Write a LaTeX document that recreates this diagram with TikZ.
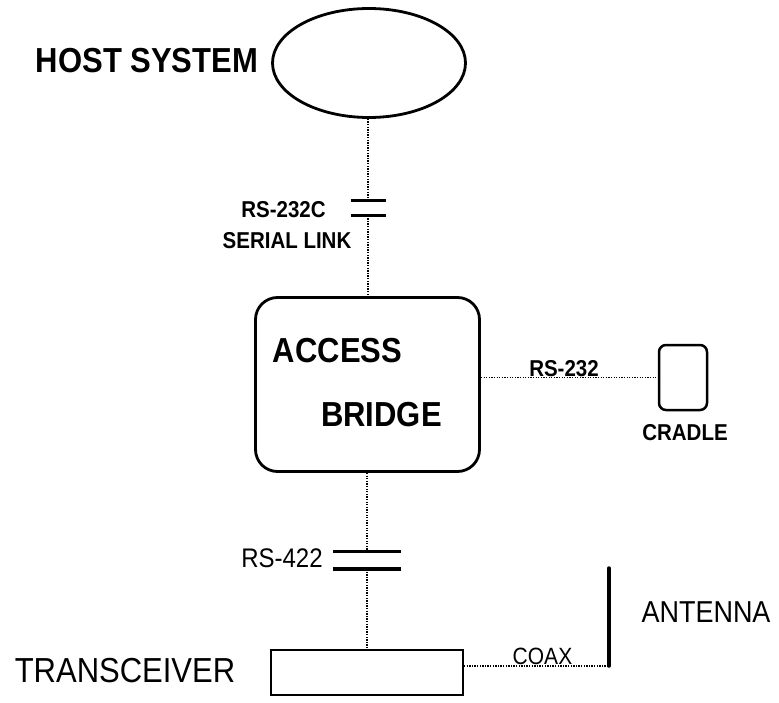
\documentclass[tikz,border=0pt]{standalone}
\usepackage{fontspec}
\setmainfont{Liberation Sans}
\usetikzlibrary{shapes.geometric}
\newcommand{\vstretch}[1]{\scalebox{1}[1.12]{#1}}
\begin{document}
\begin{tikzpicture}[x=1pt,y=-1pt,
  conn/.style={line width=1.3pt, dash pattern=on 1.3pt off 1.3pt},
  plate/.style={line width=3.2pt},
  lbl/.style={inner sep=0pt, anchor=base},
  bigb/.style={lbl, font=\bfseries\fontsize{31}{31}\selectfont},
  smallb/.style={lbl, font=\bfseries\fontsize{20.5}{20.5}\selectfont}]
\useasboundingbox (0,0) rectangle (779,703);

% shapes
\node[draw, ellipse, line width=2.8pt, minimum width=193pt, minimum height=109pt, inner sep=0pt] (host) at (369,63) {};
\node[draw, rounded corners=22pt, line width=2.8pt, minimum width=224pt, minimum height=174pt, inner sep=0pt] (bridge) at (367.5,384.5) {};
\node[draw, rounded corners=7pt, line width=2.5pt, minimum width=48pt, minimum height=65pt, inner sep=0pt] (cradle) at (683,377.5) {};
\node[draw, line width=2pt, minimum width=192pt, minimum height=45pt, inner sep=0pt] (trx) at (367,672.5) {};

% capacitors
\coordinate (c1a) at (368,200.6);
\coordinate (c1b) at (368,215.7);
\draw[plate] ([xshift=-17.5pt]c1a) -- ([xshift=17.5pt]c1a);
\draw[plate] ([xshift=-17.5pt]c1b) -- ([xshift=17.5pt]c1b);
\coordinate (c2a) at (367,551.7);
\coordinate (c2b) at (367,569);
\draw[plate] ([xshift=-34pt]c2a) -- ([xshift=34pt]c2a);
\draw[plate] ([xshift=-34pt]c2b) -- ([xshift=34pt]c2b);

% antenna
\coordinate (antt) at (609,568);
\coordinate (antb) at (609,666);
\draw[line width=3.5pt, line cap=round] (antt) -- (antb);

% connectors
\draw[conn] (host.south -| c1a) -- (c1a);
\draw[conn] (c1b) -- (bridge.north -| c1b);
\draw[conn] (bridge.south -| c2a) -- (c2a);
\draw[conn] (c2b) -- (trx.north -| c2b);
\draw[conn] (bridge.east |- cradle.west) -- (cradle.west);
\draw[conn] (trx.east |- antb) -- (antb);

% labels
\node[bigb] (lhost) at (147,73) {\vstretch{HOST SYSTEM}};
\node[bigb] (lacc) at (337.5,362) {\vstretch{ACCESS}};
\node[bigb] (lbri) at (381.5,426) {\vstretch{BRIDGE}};
\node[smallb] (l232c) at (283.5,218) {\vstretch{RS-232C}};
\node[smallb] (lser) at (287,249) {\vstretch{SERIAL LINK}};
\node[smallb] (l232) at (564,376) {\vstretch{RS-232}};
\node[smallb] (lcra) at (685,440) {\vstretch{CRADLE}};
\node[lbl, font=\fontsize{24}{24}\selectfont] (l422) at (282,567) {\vstretch{RS-422}};
\node[lbl, font=\fontsize{27}{27}\selectfont] (lant) at (706,622) {\vstretch{ANTENNA}};
\node[lbl, font=\fontsize{31}{31}\selectfont] (ltrx) at (125,682) {\vstretch{TRANSCEIVER}};
\node[lbl, font=\fontsize{21}{21}\selectfont] (lcoax) at (542.5,664) {\vstretch{COAX}};
\end{tikzpicture}
\end{document}
